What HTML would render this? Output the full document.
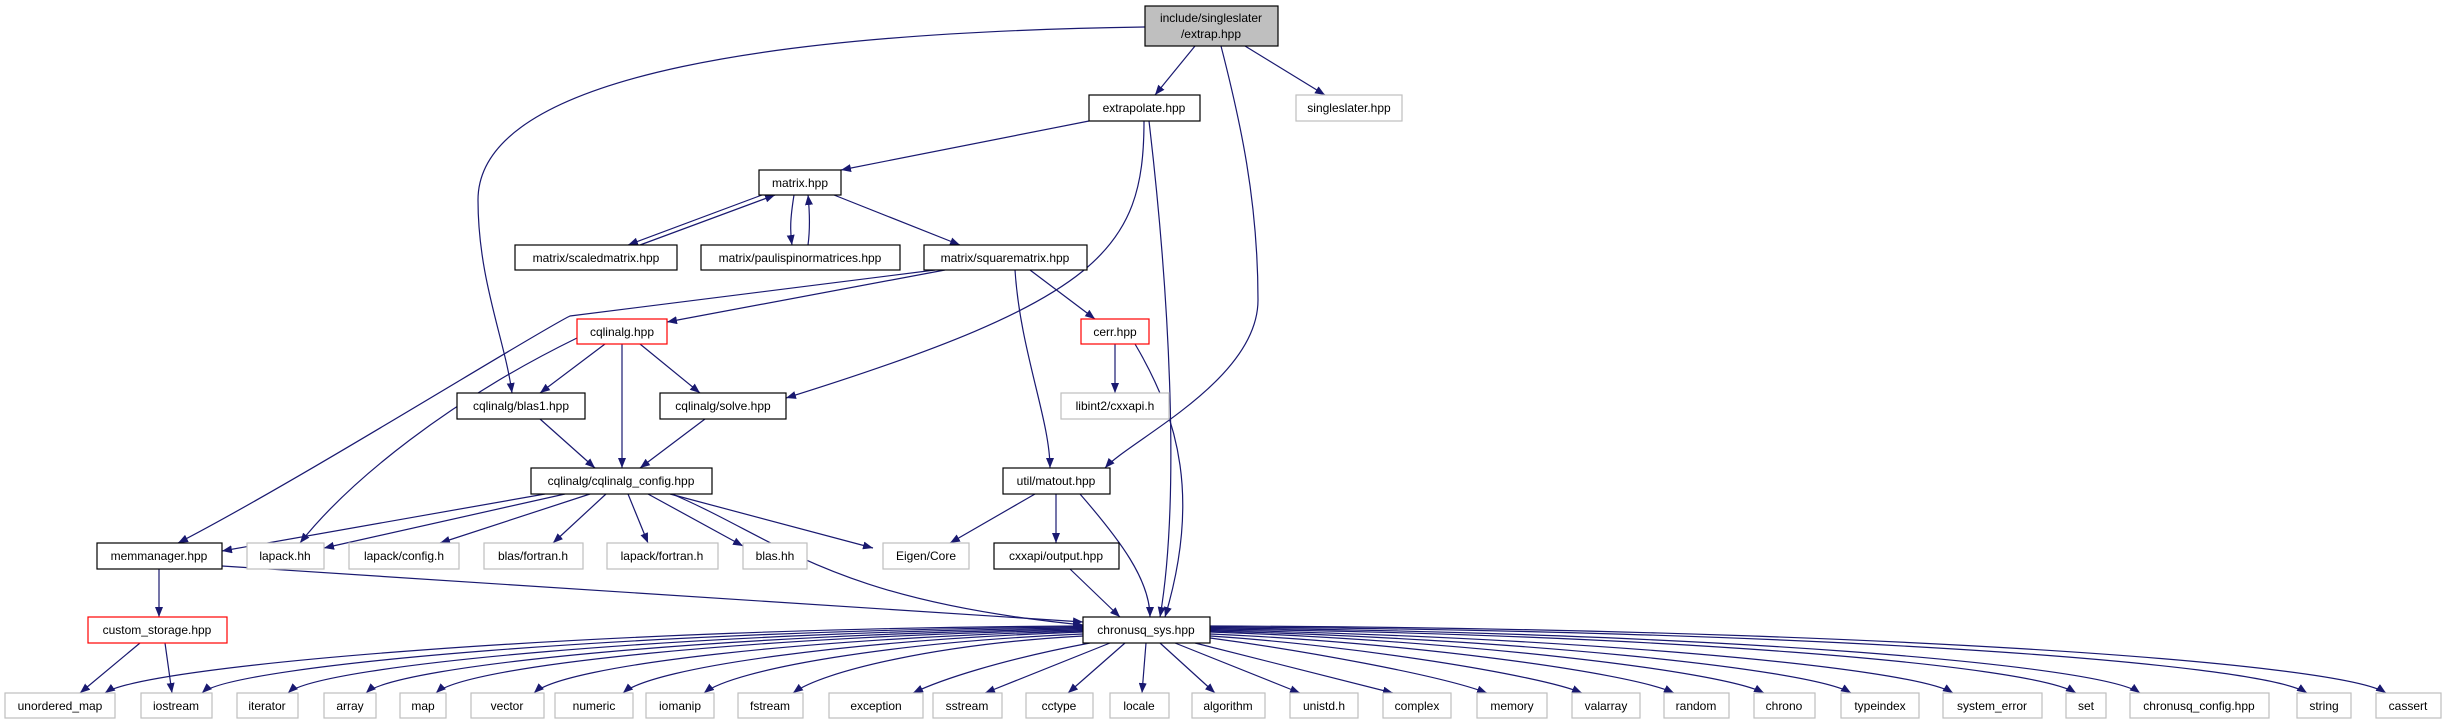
<!DOCTYPE html>
<html><head><meta charset="utf-8"><style>
html,body{margin:0;padding:0;background:#fff;}
svg{display:block;}
text{font-family:"Liberation Sans",sans-serif;font-size:12px;fill:#000;text-anchor:middle;}
.e{fill:none;stroke:#191970;stroke-width:1.2;marker-end:url(#a);}
.b{fill:#fff;stroke:#000;stroke-width:1.2;}
.g{fill:#fff;stroke:#bfbfbf;stroke-width:1.2;}
.r{fill:#fff;stroke:#ff0000;stroke-width:1.2;}
</style></head><body>
<svg width="2447" height="724" viewBox="0 0 2447 724" xmlns="http://www.w3.org/2000/svg">
<defs><marker id="a" markerUnits="userSpaceOnUse" markerWidth="11" markerHeight="8" refX="10" refY="4" orient="auto"><path d="M0,0 L10,4 L0,8 z" fill="#191970"/></marker></defs>
<g>
<path class="e" d="M1195 46 L1155 95"/>
<path class="e" d="M1245 46 L1325 95"/>
<path class="e" d="M1145 27 C800 32,478 70,478 200 C478 280,505 340,512 393"/>
<path class="e" d="M1221 46 C1240 120,1258 200,1258 300 C1258 380,1130 440,1105 468"/>
<path class="e" d="M1089 121 L841 170"/>
<path class="e" d="M1144 121 C1144 250,1100 300,786 398"/>
<path class="e" d="M1149 121 C1170 300,1180 500,1160 617"/>
<path class="e" d="M762 195 L628 245"/>
<path class="e" d="M640 245 L775 195"/>
<path class="e" d="M794 195 C790 220,790 230,792 245"/>
<path class="e" d="M808 245 C810 230,810 215,808 195"/>
<path class="e" d="M834 195 L960 245"/>
<path class="e" d="M935 270 L570 316 C540 330,300 480,178 543"/>
<path class="e" d="M945 270 L667 322"/>
<path class="e" d="M1030 270 L1095 319"/>
<path class="e" d="M1015 270 C1020 350,1050 420,1050 468"/>
<path class="e" d="M605 344 L540 393"/>
<path class="e" d="M640 344 L700 393"/>
<path class="e" d="M622 344 L622 468"/>
<path class="e" d="M577 338 C450 400,350 480,300 543"/>
<path class="e" d="M1115 344 L1115 393"/>
<path class="e" d="M1135 344 C1180 420,1200 500,1165 617"/>
<path class="e" d="M540 419 L595 468"/>
<path class="e" d="M705 419 L640 468"/>
<path class="e" d="M545 494 L222 551"/>
<path class="e" d="M565 494 L324 548"/>
<path class="e" d="M590 494 L440 543"/>
<path class="e" d="M606 494 L553 543"/>
<path class="e" d="M628 494 L648 543"/>
<path class="e" d="M648 494 L743 546"/>
<path class="e" d="M670 494 L873 548"/>
<path class="e" d="M672 494 C780 540,830 600,1083 625"/>
<path class="e" d="M1035 494 L950 543"/>
<path class="e" d="M1056 494 L1056 543"/>
<path class="e" d="M1080 494 C1120 540,1150 580,1150 617"/>
<path class="e" d="M1070 569 L1120 617"/>
<path class="e" d="M159 569 L159 617"/>
<path class="e" d="M222 566 L1083 622"/>
<path class="e" d="M140 643 L80 693"/>
<path class="e" d="M165 643 L172 693"/>
<!-- chronusq_sys to bottom -->
<path class="e" d="M1083 626 C594 628,145 665,105 693"/>
<path class="e" d="M1083 627 C642 630,232 665,202 693"/>
<path class="e" d="M1083 628 C686 632,318 665,288 693"/>
<path class="e" d="M1083 629 C725 634,396 665,366 693"/>
<path class="e" d="M1083 630 C760 636,466 665,436 693"/>
<path class="e" d="M1083 631 C808 638,564 665,534 693"/>
<path class="e" d="M1083 632 C853 640,653 667,623 693"/>
<path class="e" d="M1083 634 C893 642,734 669,704 693"/>
<path class="e" d="M1083 636 C938 644,823 671,793 693"/>
<path class="e" d="M1090 643 C1000 660,940 680,913 693"/>
<path class="e" d="M1110 643 L985 693"/>
<path class="e" d="M1125 643 L1068 693"/>
<path class="e" d="M1146 643 L1142 693"/>
<path class="e" d="M1160 643 L1215 693"/>
<path class="e" d="M1175 643 L1300 693"/>
<path class="e" d="M1195 643 L1393 693"/>
<path class="e" d="M1210 638 C1300 650,1440 675,1487 693"/>
<path class="e" d="M1210 636 C1350 645,1540 675,1582 693"/>
<path class="e" d="M1210 634 C1400 642,1630 672,1674 693"/>
<path class="e" d="M1210 632 C1450 640,1720 670,1764 693"/>
<path class="e" d="M1210 631 C1500 638,1810 668,1851 693"/>
<path class="e" d="M1210 630 C1550 636,1910 666,1953 693"/>
<path class="e" d="M1210 629 C1650 634,2030 664,2076 693"/>
<path class="e" d="M1210 628 C1700 632,2100 664,2140 693"/>
<path class="e" d="M1210 627 C1800 630,2260 662,2307 693"/>
<path class="e" d="M1210 626 C1850 628,2340 662,2386 693"/>
</g>
<g>
<rect x="1145" y="6" width="133" height="40" fill="#bfbfbf" stroke="#000" stroke-width="1.2"/>
<text x="1211" y="22">include/singleslater</text><text x="1211" y="38">/extrap.hpp</text>
<rect class="b" x="1089" y="95" width="111" height="26"/><text x="1144" y="112">extrapolate.hpp</text>
<rect class="g" x="1296" y="95" width="106" height="26"/><text x="1349" y="112">singleslater.hpp</text>
<rect class="b" x="759" y="170" width="82" height="25"/><text x="800" y="187">matrix.hpp</text>
<rect class="b" x="515" y="245" width="162" height="25"/><text x="596" y="262">matrix/scaledmatrix.hpp</text>
<rect class="b" x="701" y="245" width="199" height="25"/><text x="800" y="262">matrix/paulispinormatrices.hpp</text>
<rect class="b" x="924" y="245" width="163" height="25"/><text x="1005" y="262">matrix/squarematrix.hpp</text>
<rect class="r" x="577" y="319" width="90" height="25"/><text x="622" y="336">cqlinalg.hpp</text>
<rect class="r" x="1081" y="319" width="68" height="25"/><text x="1115" y="336">cerr.hpp</text>
<rect class="b" x="457" y="393" width="128" height="26"/><text x="521" y="410">cqlinalg/blas1.hpp</text>
<rect class="b" x="660" y="393" width="126" height="26"/><text x="723" y="410">cqlinalg/solve.hpp</text>
<rect class="g" x="1061" y="393" width="108" height="26"/><text x="1115" y="410">libint2/cxxapi.h</text>
<rect class="b" x="531" y="468" width="181" height="26"/><text x="621" y="485">cqlinalg/cqlinalg_config.hpp</text>
<rect class="b" x="1003" y="468" width="107" height="26"/><text x="1056" y="485">util/matout.hpp</text>
<rect class="b" x="97" y="543" width="125" height="26"/><text x="159" y="560">memmanager.hpp</text>
<rect class="g" x="247" y="543" width="77" height="26"/><text x="285" y="560">lapack.hh</text>
<rect class="g" x="349" y="543" width="110" height="26"/><text x="404" y="560">lapack/config.h</text>
<rect class="g" x="484" y="543" width="99" height="26"/><text x="533" y="560">blas/fortran.h</text>
<rect class="g" x="607" y="543" width="111" height="26"/><text x="662" y="560">lapack/fortran.h</text>
<rect class="g" x="743" y="543" width="64" height="26"/><text x="775" y="560">blas.hh</text>
<rect class="g" x="883" y="543" width="86" height="26"/><text x="926" y="560">Eigen/Core</text>
<rect class="b" x="994" y="543" width="125" height="26"/><text x="1056" y="560">cxxapi/output.hpp</text>
<rect class="r" x="88" y="617" width="139" height="26"/><text x="157" y="634">custom_storage.hpp</text>
<rect class="b" x="1083" y="617" width="127" height="26"/><text x="1146" y="634">chronusq_sys.hpp</text>
</g>
<g>
<rect class="g" x="5" y="693" width="110" height="25"/><text x="60" y="710">unordered_map</text>
<rect class="g" x="141" y="693" width="71" height="25"/><text x="176" y="710">iostream</text>
<rect class="g" x="237" y="693" width="61" height="25"/><text x="267" y="710">iterator</text>
<rect class="g" x="324" y="693" width="52" height="25"/><text x="350" y="710">array</text>
<rect class="g" x="400" y="693" width="46" height="25"/><text x="423" y="710">map</text>
<rect class="g" x="471" y="693" width="73" height="25"/><text x="507" y="710">vector</text>
<rect class="g" x="555" y="693" width="78" height="25"/><text x="594" y="710">numeric</text>
<rect class="g" x="646" y="693" width="68" height="25"/><text x="680" y="710">iomanip</text>
<rect class="g" x="738" y="693" width="65" height="25"/><text x="770" y="710">fstream</text>
<rect class="g" x="829" y="693" width="94" height="25"/><text x="876" y="710">exception</text>
<rect class="g" x="933" y="693" width="69" height="25"/><text x="967" y="710">sstream</text>
<rect class="g" x="1026" y="693" width="67" height="25"/><text x="1059" y="710">cctype</text>
<rect class="g" x="1110" y="693" width="59" height="25"/><text x="1139" y="710">locale</text>
<rect class="g" x="1192" y="693" width="73" height="25"/><text x="1228" y="710">algorithm</text>
<rect class="g" x="1290" y="693" width="68" height="25"/><text x="1324" y="710">unistd.h</text>
<rect class="g" x="1383" y="693" width="68" height="25"/><text x="1417" y="710">complex</text>
<rect class="g" x="1477" y="693" width="70" height="25"/><text x="1512" y="710">memory</text>
<rect class="g" x="1572" y="693" width="68" height="25"/><text x="1606" y="710">valarray</text>
<rect class="g" x="1664" y="693" width="65" height="25"/><text x="1696" y="710">random</text>
<rect class="g" x="1754" y="693" width="61" height="25"/><text x="1784" y="710">chrono</text>
<rect class="g" x="1841" y="693" width="78" height="25"/><text x="1880" y="710">typeindex</text>
<rect class="g" x="1943" y="693" width="99" height="25"/><text x="1992" y="710">system_error</text>
<rect class="g" x="2066" y="693" width="40" height="25"/><text x="2086" y="710">set</text>
<rect class="g" x="2130" y="693" width="139" height="25"/><text x="2199" y="710">chronusq_config.hpp</text>
<rect class="g" x="2297" y="693" width="54" height="25"/><text x="2324" y="710">string</text>
<rect class="g" x="2376" y="693" width="65" height="25"/><text x="2408" y="710">cassert</text>
</g>
</svg>
</body></html>
